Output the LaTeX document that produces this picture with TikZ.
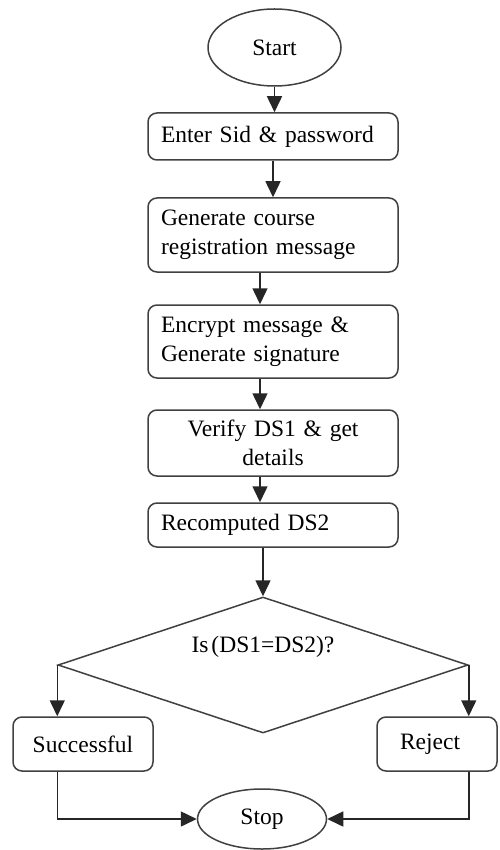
\documentclass[tikz,border=0pt]{standalone}
\usepackage{fontspec}
\setmainfont{Liberation Serif}[WordSpace=0.5]
\usetikzlibrary{arrows.meta, shapes.geometric}

\begin{document}
\begin{tikzpicture}[x=1pt, y=-1pt, >={Triangle[width=15pt, length=16pt]}, font=\fontsize{23.5}{29}\selectfont,
  line width=1.5pt, draw=black!80,
  procbox/.style={draw=black!75, rounded corners=9pt, minimum width=250pt, text width=224pt, inner xsep=13pt, inner ysep=0pt, align=left},
  endbox/.style={draw=black!75, rounded corners=9pt, minimum height=54pt, inner sep=0pt},
  term/.style={draw=black!75, ellipse, inner sep=0pt},
  flow/.style={->, draw=black!85}]
\useasboundingbox (0,0) rectangle (499,850);
\coordinate (axis) at (260,0);
\node[term, minimum width=133pt, minimum height=77pt] (start) at (274.5,47.5) {Start};
\node[procbox, minimum height=47pt] (enter) at (273,136.5) {Enter Sid \& password};
\node[procbox, minimum height=74pt] (gen) at (273,235) {Generate course\\registration message};
\node[procbox, minimum height=73pt] (enc) at (273,341.5) {Encrypt message \&\\Generate signature};
\node[procbox, minimum height=66pt, align=center] (ver) at (273,443) {Verify DS1 \& get\\details};
\node[procbox, minimum height=44pt] (rec) at (273,525) {Recomputed DS2};
\node[diamond, draw=black!75, minimum width=410pt, minimum height=136pt, inner sep=0pt,
  label={[yshift=18pt]center:Is (DS1=DS2)?}] (dec) at (263,665) {};
\node[endbox, minimum width=140pt] (succ) at (83,744) {Successful};
\node[endbox, minimum width=120pt, text width=104pt, align=left] (rej) at (437,744) {\hspace*{15pt}Reject};
\node[term, minimum width=129pt, minimum height=60pt] (stop) at (262,819) {Stop};
\draw[flow] (start.south) -- (start.south |- enter.north);
\draw[flow] (enter.south) -- (gen.north);
\draw[flow] (gen.south -| axis) -- (enc.north -| axis);
\draw[flow] (enc.south -| axis) -- (ver.north -| axis);
\draw[flow] (ver.south -| axis) -- (rec.north -| axis);
\draw[flow] (rec.south -| dec.north) -- (dec.north);
\draw[flow] (dec.west) -- (dec.west |- succ.north);
\draw[flow] (dec.east) -- (dec.east |- rej.north);
\draw[flow] (succ.south -| dec.west) |- (stop.west);
\draw[flow] (rej.south -| dec.east) |- (stop.east);
\end{tikzpicture}
\end{document}
